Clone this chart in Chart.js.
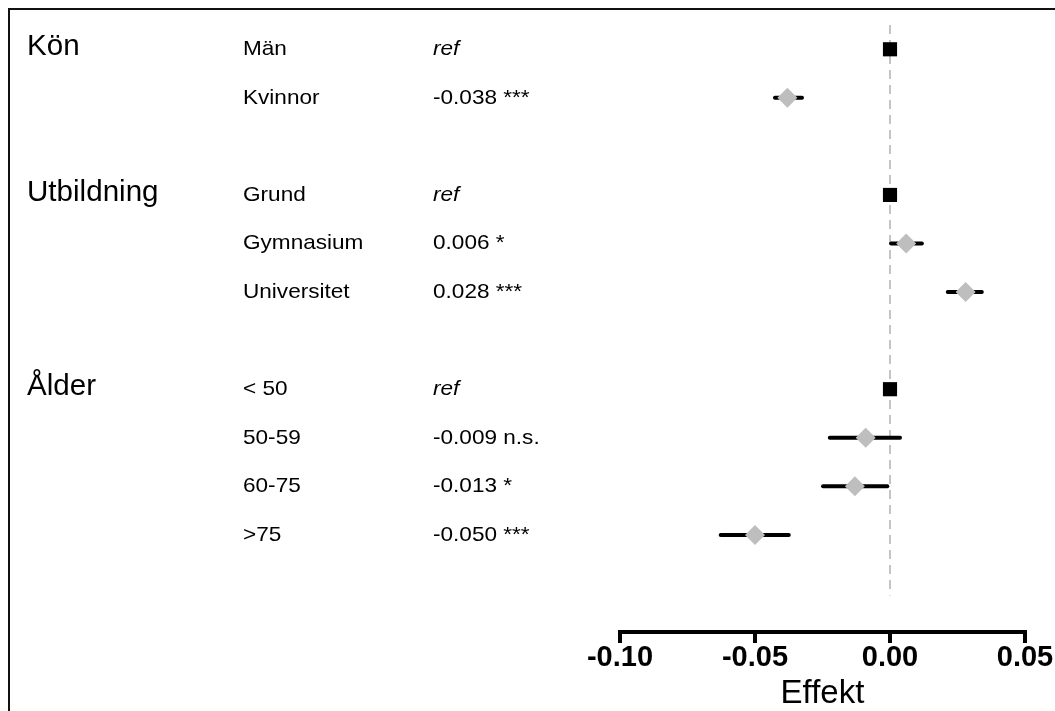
<!DOCTYPE html>
<html>
<head>
<meta charset="utf-8">
<script src="https://cdn.jsdelivr.net/npm/chart.js@4/dist/chart.umd.min.js"></script>
<style>
  html, body { margin: 0; padding: 0; background: #ffffff; }
  #wrap { width: 1055px; height: 711px; position: relative; }
</style>
</head>
<body>
<div id="wrap"><canvas id="c" width="1055" height="711"></canvas></div>
<script>
// ---------- data ----------
const groupNames = ['Kön', 'Utbildning', 'Ålder'];
const groupRows  = [0, 3, 7];

const itemLabels = ['Män', 'Kvinnor', 'Grund', 'Gymnasium', 'Universitet', '< 50', '50-59', '60-75', '>75'];
const itemRows   = [0, 1, 3, 4, 5, 7, 8, 9, 10];
const isReference = [true, false, true, false, false, true, false, false, false];
const estimates  = [0, -0.038, 0, 0.006, 0.028, 0, -0.009, -0.013, -0.050];
const lowerCI    = [null, -0.0426, null, 0.0004, 0.0214, null, -0.0223, -0.0248, -0.0627];
const upperCI    = [null, -0.0326, null, 0.0118, 0.0340, null, 0.0037, -0.0010, -0.0375];
const valueTexts = ['ref', '-0.038 ***', 'ref', '0.006 *', '0.028 ***', 'ref', '-0.009 n.s.', '-0.013 *', '-0.050 ***'];

const tickValues = [-0.10, -0.05, 0.00, 0.05];
const tickLabels = ['-0.10', '-0.05', '0.00', '0.05'];
const axisTitle = 'Effekt';
const refLineSpan = [-0.5, 11.25];

// ---------- datasets ----------
const FONT = "'Liberation Sans', Arial, Helvetica, sans-serif";
const GREY = '#bebebe';

const datasets = [];
// dashed zero reference line
datasets.push({
  type: 'line',
  data: [{x: 0, y: refLineSpan[0]}, {x: 0, y: refLineSpan[1]}],
  borderColor: '#c4c4c4',
  borderWidth: 2,
  borderDash: [9, 6],
  pointRadius: 0,
  order: 5
});
// confidence intervals
itemRows.forEach((r, i) => {
  if (lowerCI[i] === null) return;
  datasets.push({
    type: 'line',
    data: [{x: lowerCI[i], y: r}, {x: upperCI[i], y: r}],
    borderColor: '#000000',
    borderWidth: 4,
    borderCapStyle: 'round',
    pointRadius: 0,
    order: 3
  });
});
// reference squares
datasets.push({
  type: 'scatter',
  data: itemRows.map((r, i) => isReference[i] ? {x: estimates[i], y: r} : null).filter(p => p),
  pointStyle: 'rect',
  pointRadius: 10,
  backgroundColor: '#000000',
  borderWidth: 0,
  order: 1
});
// estimate diamonds
datasets.push({
  type: 'scatter',
  data: itemRows.map((r, i) => !isReference[i] ? {x: estimates[i], y: r} : null).filter(p => p),
  pointStyle: 'rectRot',
  pointRadius: 10,
  backgroundColor: GREY,
  borderWidth: 0,
  order: 1
});

// ---------- plugins ----------
const framePlugin = {
  id: 'frame',
  beforeDraw(chart) {
    const ctx = chart.ctx;
    ctx.save();
    ctx.fillStyle = '#ffffff';
    ctx.fillRect(0, 0, chart.width, chart.height);
    ctx.fillStyle = '#111111';
    ctx.fillRect(8, 8, chart.width - 8, 2);
    ctx.fillRect(8, 8, 2, chart.height - 8);
    ctx.restore();
  }
};

function drawText(ctx, text, x, y, font, sx) {
  ctx.save();
  ctx.translate(x, y);
  ctx.scale(sx, 1);
  ctx.font = font;
  ctx.fillText(text, 0, 0);
  ctx.restore();
}

const labelPlugin = {
  id: 'labels',
  afterDraw(chart) {
    const ctx = chart.ctx;
    const ys = chart.scales.y;
    ctx.save();
    ctx.fillStyle = '#000000';
    ctx.textAlign = 'left';
    ctx.textBaseline = 'middle';
    groupNames.forEach((g, i) => {
      drawText(ctx, g, 27, ys.getPixelForValue(groupRows[i]) - 2, '29px ' + FONT, 1.02);
    });
    itemLabels.forEach((t, i) => {
      const y = ys.getPixelForValue(itemRows[i]);
      drawText(ctx, t, 243, y, '21px ' + FONT, 1.075);
      const f = isReference[i] ? 'italic 21px ' + FONT : '21px ' + FONT;
      drawText(ctx, valueTexts[i], 433, y, f, 1.075);
    });
    ctx.restore();
  }
};

// ---------- chart ----------
Chart.defaults.font.family = FONT;
new Chart(document.getElementById('c'), {
  type: 'scatter',
  data: { datasets },
  options: {
    responsive: false,
    animation: false,
    devicePixelRatio: 1,
    layout: { padding: { left: 620, right: 30, top: 25, bottom: 0 } },
    plugins: { legend: { display: false }, tooltip: { enabled: false } },
    scales: {
      x: {
        type: 'linear',
        min: tickValues[0],
        max: tickValues[tickValues.length - 1],
        afterBuildTicks(scale) { scale.ticks = tickValues.map(v => ({ value: v })); },
        afterFit(scale) { scale.height = 79; scale.paddingLeft = 0; scale.paddingRight = 0; },
        border: { display: true, color: '#000000', width: 4 },
        grid: { drawOnChartArea: false, drawTicks: true, tickLength: 11, lineWidth: 4, color: '#000000' },
        ticks: {
          padding: -2,
          color: '#000000',
          font: { size: 29, weight: 'bold', family: FONT },
          maxRotation: 0,
          autoSkip: false,
          callback(value, index) { return tickLabels[index]; }
        },
        title: {
          display: true,
          text: axisTitle,
          color: '#000000',
          font: { size: 33, family: FONT, lineHeight: 1 },
          padding: { top: 0, bottom: 1 }
        }
      },
      y: {
        type: 'linear',
        display: false,
        reverse: true,
        min: -0.5,
        max: 12
      }
    }
  },
  plugins: [framePlugin, labelPlugin]
});
</script>
</body>
</html>
